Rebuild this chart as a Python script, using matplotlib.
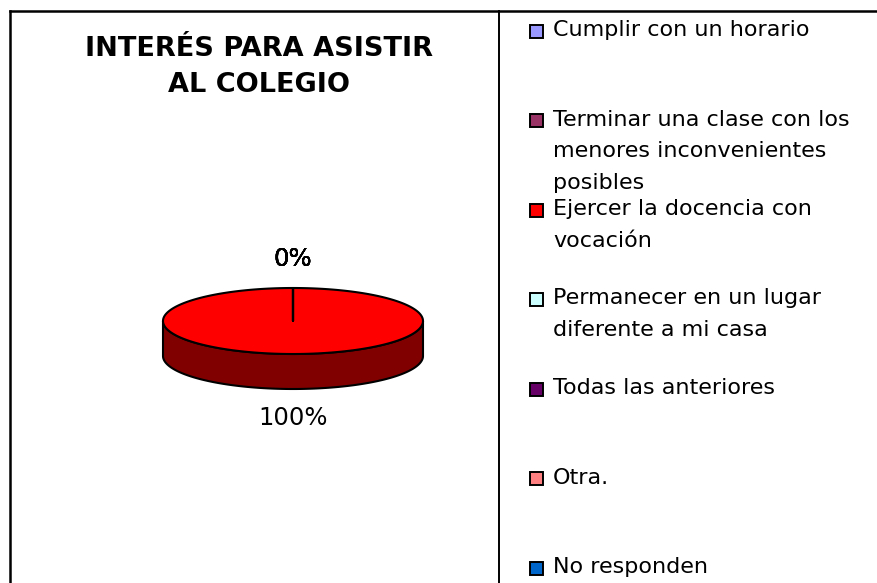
import numpy as np
import matplotlib.pyplot as plt
from matplotlib.patches import Polygon, Rectangle
from matplotlib.colors import to_rgb

plt.rcParams['font.family'] = ['DejaVu Sans']

# data
title = 'INTERÉS PARA ASISTIR\nAL COLEGIO'
categories = ['Cumplir con un horario',
              'Terminar una clase con los\nmenores inconvenientes\nposibles',
              'Ejercer la docencia con\nvocación',
              'Permanecer en un lugar\ndiferente a mi casa',
              'Todas las anteriores',
              'Otra.',
              'No responden']
values = [0, 0, 1, 0, 0, 0, 0]
colors = ['#9999FF', '#993366', '#FF0000', '#CCFFFF', '#660066', '#FF8080', '#0066CC']

fig = plt.figure(figsize=(8.77, 5.83), dpi=100)
ax = fig.add_axes([0, 0, 1, 1])
ax.set_xlim(0, 877)
ax.set_ylim(583, 0)
ax.axis('off')

# frame and divider
ax.plot([10, 10], [583, 11], color='black', lw=1.8)
ax.plot([10, 877], [11, 11], color='black', lw=1.8)
ax.plot([499, 499], [11, 583], color='black', lw=1.4)

ax.text(259, 67, title, ha='center', va='center', fontsize=19.5, fontweight='bold',
        linespacing=1.55)

# 3d pie
cx, cy, rx, ry, depth = 293, 321, 130, 33, 35
fracs = np.array(values, dtype=float) / np.sum(values)
start = 90.0
wedges = []
for f, c in zip(fracs, colors):
    a0, a1 = start, start - 360 * f
    wedges.append((a0, a1, c, f))
    start = a1

def pt(a, dz=0):
    t = np.radians(a)
    return cx + rx * np.cos(t), cy - ry * np.sin(t) + dz

# side faces (front half only)
for a0, a1, c, f in wedges:
    if f <= 0:
        continue
    lo, hi = min(a0, a1), max(a0, a1)
    segs = []
    for k in range(-2, 2):
        s = max(lo, 180 + 360 * k)
        e = min(hi, 360 + 360 * k)
        if e > s:
            segs.append((s, e))
    dark = tuple(0.5 * v for v in to_rgb(c))
    for s, e in segs:
        th = np.linspace(s, e, 200)
        top = [pt(a) for a in th]
        bot = [pt(a, depth) for a in th[::-1]]
        ax.add_patch(Polygon(top + bot, closed=True, facecolor=dark,
                             edgecolor='black', lw=1.5, joinstyle='round'))

# top faces
for a0, a1, c, f in wedges:
    th = np.linspace(a0, a1, max(2, int(400 * f)))
    verts = [(cx, cy)] + [pt(a) for a in th]
    ax.add_patch(Polygon(verts, closed=True, facecolor=c, edgecolor='black',
                         lw=1.5, joinstyle='round'))

# percentage labels
off = 29
for a0, a1, c, f in wedges:
    m = np.radians((a0 + a1) / 2)
    x = cx + (rx + off) * np.cos(m)
    y = cy - (ry + off) * np.sin(m)
    if np.sin(m) < 0:
        y += depth
    ax.text(x, y, '%d%%' % round(f * 100), ha='center', va='center', fontsize=17.5)

# legend
y0, step = 31, 89.5
for i, (lab, c) in enumerate(zip(categories, colors)):
    y = y0 + i * step
    ax.add_patch(Rectangle((529.5, y - 6.5), 13, 13, facecolor=c, edgecolor='black', lw=1.4))
    ax.text(553, y - 11, lab, ha='left', va='top', fontsize=16, linespacing=1.72)

fig.savefig('out.png', dpi=100)
